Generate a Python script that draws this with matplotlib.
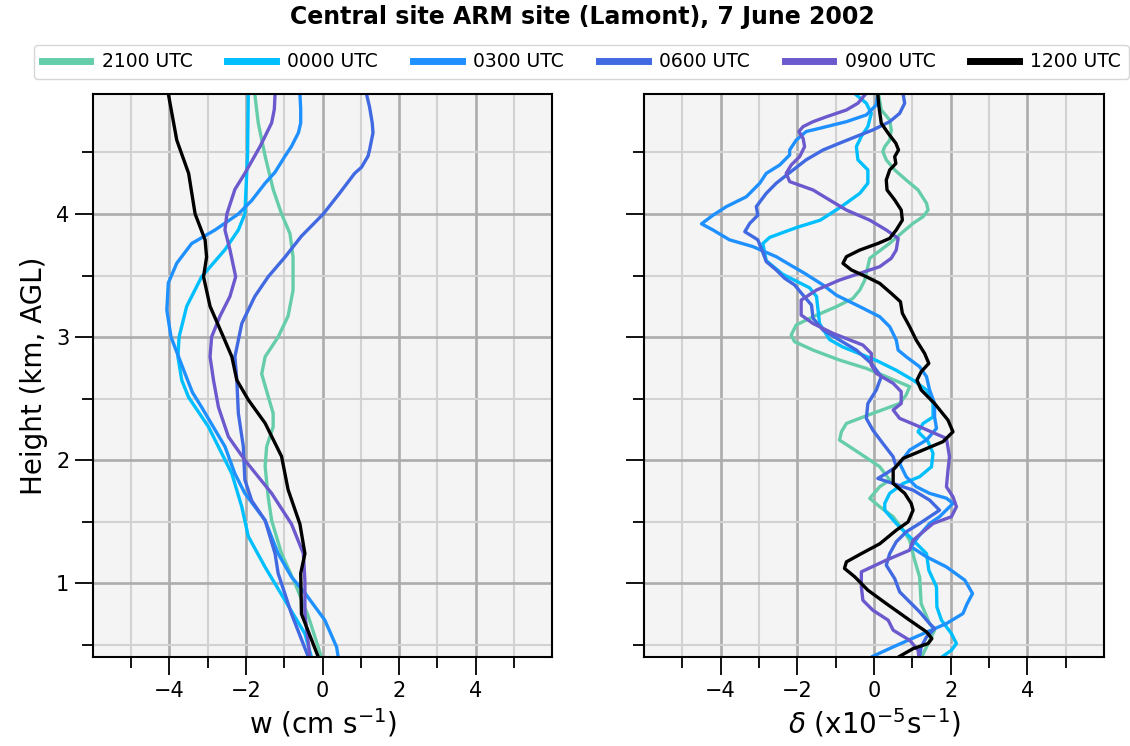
import matplotlib
matplotlib.use("Agg")
import matplotlib.pyplot as plt
from matplotlib.ticker import FixedLocator

# profile times and colours
times = ["2100 UTC", "0000 UTC", "0300 UTC", "0600 UTC", "0900 UTC", "1200 UTC"]
colors = ["mediumaquamarine", "deepskyblue", "dodgerblue", "royalblue", "slateblue", "black"]

x_major = [-4, -2, 0, 2, 4]
x_minor = [-5, -3, -1, 1, 3, 5]
y_major = [1, 2, 3, 4]
y_minor = [0.5, 1.5, 2.5, 3.5, 4.5]

# vertical velocity profiles, w (cm/s) against height (km AGL)
z_w_2100 = [4.975, 4.74, 4.47, 4.2, 4.0, 3.84, 3.65, 3.38, 3.17, 3.0, 2.84, 2.70, 2.55, 2.38,
            2.27, 2.11, 1.95, 1.7, 1.51, 1.24, 1.0, 0.73, 0.4]
w_2100 = [-1.77, -1.68, -1.5, -1.29, -1.07, -0.85, -0.77, -0.77, -0.9, -1.16, -1.5, -1.59, -1.45,
          -1.29, -1.29, -1.46, -1.5, -1.42, -1.33, -1.07, -0.72, -0.37, -0.03]
z_w_0000 = [4.975, 4.47, 4.0, 3.87, 3.71, 3.49, 3.25, 3.0, 2.84, 2.65, 2.51, 2.27, 1.89, 1.62,
            1.38, 1.13, 0.86, 0.59, 0.4]
w_0000 = [-1.94, -1.96, -2.03, -2.2, -2.55, -3.16, -3.55, -3.75, -3.78, -3.68, -3.5, -2.98, -2.37,
          -2.11, -1.94, -1.5, -0.98, -0.46, -0.29]
z_w_0300 = [4.975, 4.85, 4.74, 4.66, 4.55, 4.47, 4.34, 4.25, 4.11, 4.0, 3.87, 3.76, 3.6, 3.44,
            3.33, 3.22, 3.0, 2.7, 2.55, 2.43, 2.11, 1.89, 1.73, 1.51, 1.24, 1.05, 0.92, 0.7,
            0.48, 0.4]
w_0300 = [-0.59, -0.57, -0.57, -0.63, -0.81, -0.98, -1.24, -1.5, -1.85, -2.2, -2.81, -3.42, -3.81,
          -4.03, -4.05, -4.07, -3.96, -3.59, -3.4, -3.16, -2.55, -2.29, -2.03, -1.5, -1.16, -0.81,
          -0.46, 0.06, 0.37, 0.41]
z_w_0600 = [4.975, 4.87, 4.74, 4.66, 4.52, 4.47, 4.38, 4.33, 4.17, 4.0, 3.82, 3.65, 3.49, 3.33,
            3.11, 2.84, 2.65, 2.38, 2.11, 1.84, 1.67, 1.51, 1.24, 1.08, 0.75, 0.4]
w_0600 = [1.15, 1.23, 1.30, 1.32, 1.23, 1.19, 1.02, 0.84, 0.45, 0.02, -0.55, -0.98, -1.42, -1.77,
          -2.11, -2.29, -2.24, -2.2, -2.07, -2.03, -1.85, -1.5, -1.24, -1.16, -0.81, -0.37]
z_w_0900 = [4.975, 4.85, 4.74, 4.55, 4.33, 4.2, 4.0, 3.87, 3.71, 3.49, 3.33, 3.17, 3.0, 2.84,
            2.65, 2.43, 2.19, 2.0, 1.73, 1.48, 1.24, 1.02, 0.75, 0.4]
w_0900 = [-1.24, -1.26, -1.33, -1.63, -2.03, -2.29, -2.5, -2.55, -2.42, -2.27, -2.42, -2.68, -2.9,
          -2.94, -2.85, -2.72, -2.46, -2.03, -1.33, -0.81, -0.5, -0.46, -0.46, -0.33]
z_w_1200 = [4.975, 4.6, 4.33, 4.0, 3.79, 3.65, 3.49, 3.25, 3.0, 2.84, 2.65, 2.49, 2.3, 2.03,
            1.76, 1.48, 1.24, 1.08, 0.75, 0.4]
w_1200 = [-4.03, -3.81, -3.5, -3.33, -3.07, -3.03, -3.11, -2.94, -2.59, -2.37, -2.24, -1.94, -1.5,
          -1.07, -0.9, -0.59, -0.46, -0.57, -0.55, -0.11]

# divergence profiles, delta (1e-5 /s) against height (km AGL)
z_d_2100 = [4.975, 4.845, 4.764, 4.683, 4.6, 4.547, 4.507, 4.44, 4.358, 4.276, 4.195, 4.087,
            4.032, 3.978, 3.924, 3.856, 3.762, 3.68, 3.64, 3.572, 3.463, 3.382, 3.314, 3.247,
            3.165, 3.098, 3.016, 2.962, 2.894, 2.813, 2.745, 2.678, 2.597, 2.53, 2.46, 2.38,
            2.298, 2.23, 2.163, 2.055, 1.946, 1.838, 1.784, 1.689, 1.621, 1.54, 1.43, 1.349,
            1.187, 1.051, 0.834, 0.672, 0.618, 0.5, 0.406]
d_2100 = [0.12, 0.19, 0.41, 0.45, 0.41, 0.28, 0.23, 0.32, 0.54, 0.84, 1.15, 1.37, 1.41, 1.28,
          1.02, 0.76, 0.41, 0.06, -0.11, -0.16, -0.24, -0.37, -0.55, -0.98, -1.59, -2.03, -2.16,
          -2.07, -1.59, -0.90, -0.20, 0.32, 0.93, 0.84, 0.67, -0.03, -0.72, -0.85, -0.90, -0.37,
          0.15, 0.41, 0.15, -0.11, 0.15, 0.50, 0.76, 0.93, 1.06, 1.19, 1.23, 1.45, 1.58, 1.40,
          1.25]
z_d_0000 = [4.967, 4.9, 4.818, 4.71, 4.63, 4.547, 4.44, 4.358, 4.25, 4.168, 4.06, 3.95, 3.89,
            3.81, 3.76, 3.62, 3.51, 3.40, 3.33, 3.11, 2.98, 2.92, 2.81, 2.73, 2.65, 2.57, 2.46,
            2.35, 2.298, 2.23, 2.15, 2.055, 1.946, 1.865, 1.81, 1.73, 1.648, 1.593, 1.485,
            1.349, 1.24, 1.105, 0.97, 0.807, 0.699, 0.59, 0.509, 0.455, 0.406]
d_0000 = [-0.46, -0.20, -0.07, -0.16, -0.33, -0.46, -0.42, -0.16, -0.16, -0.37, -0.85, -1.40,
          -2.02, -2.72, -2.90, -2.81, -2.38, -1.68, -1.50, -1.42, -1.16, -0.82, 0.06, 0.58, 1.02,
          1.37, 1.54, 1.54, 1.28, 1.15, 1.41, 1.54, 1.50, 1.19, 0.76, 0.41, 0.28, 0.28, 0.58,
          1.02, 1.37, 1.43, 1.63, 1.64, 1.76, 2.02, 2.15, 2.02, 1.80]
z_d_0300 = [4.975, 4.886, 4.805, 4.75, 4.696, 4.67, 4.6, 4.52, 4.48, 4.398, 4.33, 4.25, 4.14,
            4.06, 3.99, 3.92, 3.87, 3.79, 3.735, 3.653, 3.572, 3.518, 3.423, 3.34, 3.247, 3.165,
            3.084, 2.976, 2.894, 2.84, 2.759, 2.678, 2.57, 2.46, 2.352, 2.258, 2.163, 2.082,
            1.973, 1.865, 1.784, 1.73, 1.69, 1.648, 1.54, 1.485, 1.376, 1.295, 1.214, 1.132,
            1.024, 0.916, 0.834, 0.753, 0.672, 0.577, 0.482, 0.406]
d_0300 = [0.10, 0.06, -0.20, -0.72, -1.42, -1.77, -2.03, -2.20, -2.20, -2.46, -2.81, -2.98, -3.33,
          -3.85, -4.20, -4.50, -4.20, -3.77, -3.16, -2.55, -2.11, -1.81, -1.33, -0.98, -0.37,
          0.15, 0.41, 0.58, 0.63, 0.84, 1.19, 1.37, 1.45, 1.58, 1.58, 1.63, 1.37, 0.93, 0.67,
          0.84, 1.10, 1.45, 1.89, 2.06, 1.71, 1.45, 1.15, 0.97, 1.37, 1.89, 2.37, 2.57, 2.43,
          2.32, 1.89, 1.19, 0.50, -0.03]
z_d_0600 = [4.975, 4.9, 4.818, 4.75, 4.683, 4.63, 4.575, 4.52, 4.44, 4.358, 4.25, 4.168, 4.06,
            3.99, 3.924, 3.856, 3.79, 3.72, 3.613, 3.545, 3.477, 3.423, 3.34, 3.26, 3.152,
            3.057, 2.976, 2.894, 2.786, 2.678, 2.57, 2.46, 2.339, 2.244, 2.136, 2.027, 1.946,
            1.892, 1.851, 1.81, 1.756, 1.675, 1.593, 1.485, 1.417, 1.336, 1.24, 1.146, 1.037,
            0.929, 0.848, 0.767, 0.672, 0.631, 0.563, 0.482, 0.406]
d_0600 = [0.76, 0.80, 0.67, 0.41, -0.03, -0.46, -0.90, -1.33, -1.77, -2.11, -2.55, -2.81, -3.07,
          -3.03, -3.24, -3.37, -3.03, -2.94, -2.81, -2.55, -2.33, -2.07, -1.85, -1.63, -1.59,
          -1.33, -0.90, -0.46, -0.07, 0.19, 0.06, -0.16, -0.20, -0.03, 0.23, 0.50, 0.58, 0.32,
          0.10, 0.50, 1.02, 1.45, 1.71, 1.19, 0.84, 0.58, 0.41, 0.32, 0.54, 0.67, 0.93, 1.19,
          1.45, 1.58, 1.37, 1.23, 1.19]
z_d_0900 = [4.967, 4.9, 4.845, 4.79, 4.75, 4.71, 4.67, 4.615, 4.547, 4.466, 4.398, 4.33, 4.263,
            4.195, 4.114, 4.032, 3.95, 3.87, 3.802, 3.707, 3.64, 3.572, 3.518, 3.463, 3.382,
            3.3, 3.179, 3.11, 3.03, 2.935, 2.867, 2.773, 2.705, 2.664, 2.624, 2.556, 2.46,
            2.407, 2.339, 2.271, 2.176, 2.027, 1.919, 1.783, 1.702, 1.621, 1.54, 1.485, 1.349,
            1.268, 1.187, 1.092, 0.97, 0.861, 0.78, 0.699, 0.618, 0.536, 0.455, 0.406]
d_0900 = [-0.24, -0.42, -0.72, -1.24, -1.59, -1.85, -1.96, -1.85, -1.81, -1.94, -2.16, -2.29,
          -2.20, -1.59, -1.16, -0.72, -0.11, 0.32, 0.63, 0.58, 0.45, 0.15, -0.37, -0.90, -1.50,
          -1.90, -1.90, -1.59, -1.07, -0.29, -0.07, -0.07, 0.06, 0.28, 0.50, 0.71, 0.71, 0.50,
          0.67, 1.19, 1.89, 1.97, 1.93, 1.89, 2.06, 2.15, 2.02, 1.54, 1.02, 0.93, 0.32, -0.33,
          -0.33, -0.29, -0.03, 0.37, 0.50, 0.93, 1.15, 1.17]
z_d_1200 = [4.975, 4.87, 4.737, 4.656, 4.575, 4.52, 4.466, 4.41, 4.358, 4.276, 4.195, 4.114,
            4.032, 3.95, 3.87, 3.802, 3.76, 3.707, 3.653, 3.599, 3.545, 3.49, 3.436, 3.355,
            3.287, 3.193, 3.084, 2.976, 2.867, 2.786, 2.718, 2.65, 2.57, 2.46, 2.325, 2.23,
            2.15, 2.082, 2.014, 1.92, 1.81, 1.73, 1.648, 1.593, 1.498, 1.43, 1.32, 1.24, 1.173,
            1.12, 1.051, 0.943, 0.834, 0.699, 0.604, 0.55, 0.509, 0.468, 0.406]
d_1200 = [0.10, 0.13, 0.19, 0.37, 0.57, 0.64, 0.54, 0.57, 0.41, 0.32, 0.34, 0.54, 0.71, 0.74,
          0.58, 0.41, 0.10, -0.37, -0.72, -0.81, -0.59, -0.20, 0.15, 0.45, 0.69, 0.74, 0.93,
          1.10, 1.32, 1.43, 1.23, 1.12, 1.23, 1.58, 1.93, 2.06, 1.80, 1.28, 0.76, 0.50, 0.50,
          0.80, 0.97, 1.02, 0.89, 0.58, 0.15, -0.33, -0.72, -0.77, -0.50, -0.16, 0.32, 0.93,
          1.37, 1.51, 1.41, 1.02, 0.67]

w_profiles = [(z_w_2100, w_2100), (z_w_0000, w_0000), (z_w_0300, w_0300),
              (z_w_0600, w_0600), (z_w_0900, w_0900), (z_w_1200, w_1200)]
d_profiles = [(z_d_2100, d_2100), (z_d_0000, d_0000), (z_d_0300, d_0300),
              (z_d_0600, d_0600), (z_d_0900, d_0900), (z_d_1200, d_1200)]

fig = plt.figure(figsize=(11.3, 7.46), dpi=100)
ax1 = fig.add_axes([0.0823, 0.1193, 0.4062, 0.7547])
ax2 = fig.add_axes([0.5699, 0.1193, 0.4071, 0.7547])


def style_axis(ax):
    ax.set_facecolor("#f4f4f4")
    ax.set_xlim(-6, 6)
    ax.set_ylim(0.4, 4.975)
    ax.xaxis.set_major_locator(FixedLocator(x_major))
    ax.xaxis.set_minor_locator(FixedLocator(x_minor))
    ax.yaxis.set_major_locator(FixedLocator(y_major))
    ax.yaxis.set_minor_locator(FixedLocator(y_minor))
    ax.set_axisbelow(True)
    ax.grid(which="major", color="#acacac", lw=1.9)
    ax.grid(which="minor", color="#d2d2d2", lw=1.5)
    ax.tick_params(which="major", length=13, width=1.3, labelsize=15, pad=4)
    ax.tick_params(which="minor", length=8, width=1.3)
    for sp in ax.spines.values():
        sp.set_linewidth(1.5)


lines = []
for (z, w), c, t in zip(w_profiles, colors, times):
    (ln,) = ax1.plot(w, z, color=c, lw=2.4, label=t)
    lines.append(ln)
for (z, d), c in zip(d_profiles, colors):
    ax2.plot(d, z, color=c, lw=2.4)

style_axis(ax1)
style_axis(ax2)
ax2.tick_params(labelleft=False)

ax1.set_xlabel("w (cm s$^{-1}$)", fontsize=20)
ax1.set_ylabel("Height (km, AGL)", fontsize=20, labelpad=6)
ax2.set_xlabel(r"$\delta$ (x10$^{-5}$s$^{-1}$)", fontsize=20)

fig.suptitle("Central site ARM site (Lamont), 7 June 2002", fontsize=17,
             fontweight="bold", x=0.515, y=0.993)

leg = fig.legend(lines, times, loc="center", ncol=6, mode="expand",
                 bbox_to_anchor=(0.022, 0.895, 0.985, 0.044), fontsize=13.5,
                 handlelength=2.6, handletextpad=0.6, edgecolor="#cccccc",
                 fancybox=True)
for h in leg.get_lines():
    h.set_linewidth(5)

fig.savefig("out.png", dpi=100)
